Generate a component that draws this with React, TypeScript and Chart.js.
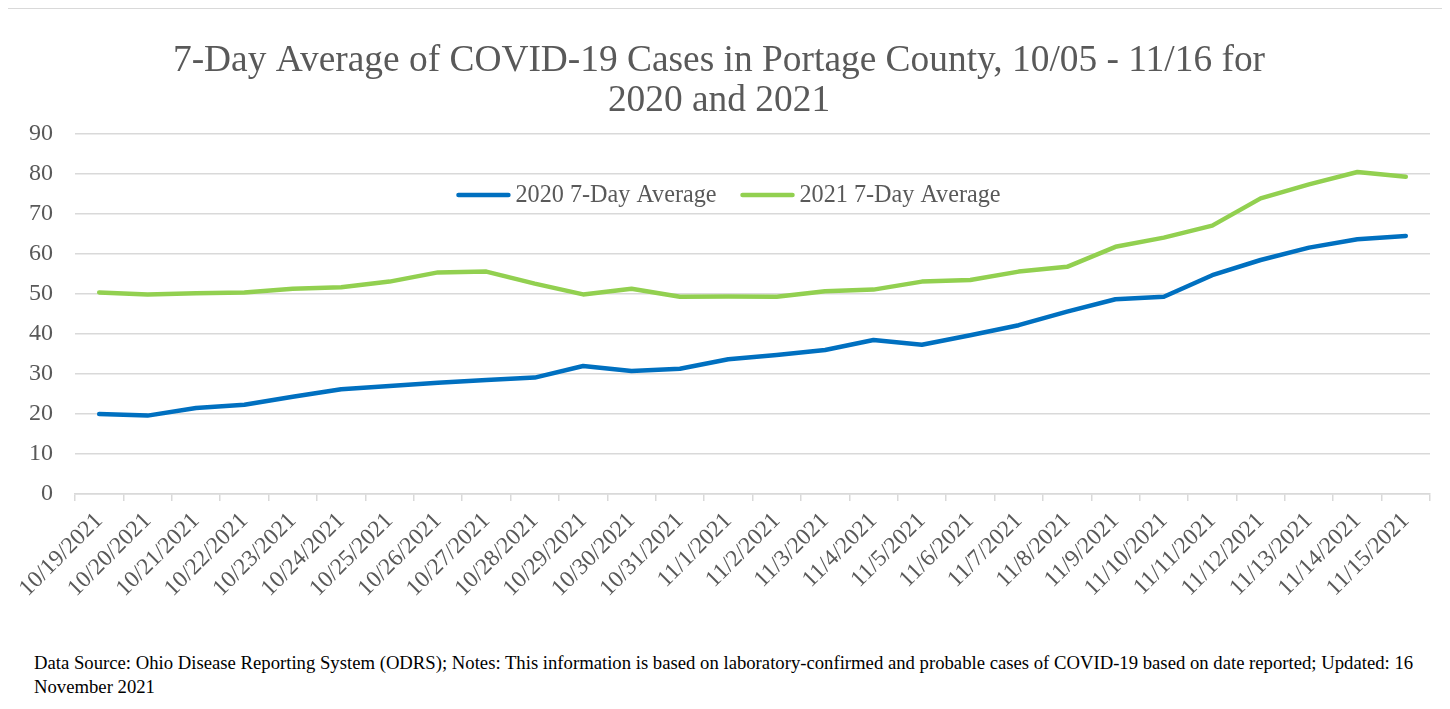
import { useEffect, useRef } from "react";
import { Chart, registerables } from "chart.js";

Chart.register(...registerables);

const categories = [
  "10/19/2021", "10/20/2021", "10/21/2021", "10/22/2021", "10/23/2021", "10/24/2021", "10/25/2021",
  "10/26/2021", "10/27/2021", "10/28/2021", "10/29/2021", "10/30/2021", "10/31/2021", "11/1/2021",
  "11/2/2021", "11/3/2021", "11/4/2021", "11/5/2021", "11/6/2021", "11/7/2021", "11/8/2021",
  "11/9/2021", "11/10/2021", "11/11/2021", "11/12/2021", "11/13/2021", "11/14/2021", "11/15/2021",
];

const avg2020 = [
  20.0, 19.6, 21.5, 22.3, 24.3, 26.2, 27.0, 27.8, 28.5, 29.1, 32.0, 30.75, 31.3, 33.7,
  34.75, 36.0, 38.5, 37.3, 39.7, 42.2, 45.6, 48.7, 49.3, 54.7, 58.5, 61.6, 63.7, 64.5,
];

const avg2021 = [
  50.4, 49.9, 50.2, 50.4, 51.3, 51.7, 53.1, 55.4, 55.6, 52.6, 49.9, 51.3, 49.3, 49.4,
  49.3, 50.7, 51.1, 53.1, 53.5, 55.6, 56.8, 61.8, 64.1, 67.1, 73.9, 77.4, 80.5, 79.3,
];

const seriesLabels = ["2020 7-Day Average", "2021 7-Day Average"];
const titleLines = ["7-Day Average of COVID-19 Cases in Portage County, 10/05 - 11/16 for", "2020 and 2021"];
const yMin = 0;
const yMax = 90;
const yStep = 10;

const FONT = "'Liberation Serif', 'Times New Roman', Times, serif";
const GRAY = "#595959";
const GRID = "#D9D9D9";

const inlineLegend = {
  id: "inlineLegend",
  afterDatasetsDraw(chart: any) {
    const ctx = chart.ctx;
    const area = chart.chartArea;
    const fontSize = 24.2;
    const lineW = 54;
    const gapText = 5;
    const gapItem = 24;
    ctx.save();
    ctx.font = `${fontSize}px ${FONT}`;
    const items = chart.data.datasets.map((ds: any) => ({
      label: ds.label,
      color: ds.borderColor,
      w: ctx.measureText(ds.label).width,
    }));
    let total = 0;
    items.forEach((it: any, i: number) => {
      total += lineW + gapText + it.w + (i < items.length - 1 ? gapItem : 0);
    });
    let x = chart.width / 2 - total / 2 + 2;
    const y = area.top + 61;
    items.forEach((it: any) => {
      ctx.strokeStyle = it.color;
      ctx.lineWidth = 4.5;
      ctx.lineCap = "round";
      ctx.beginPath();
      ctx.moveTo(x + 2, y);
      ctx.lineTo(x + lineW - 2, y);
      ctx.stroke();
      ctx.fillStyle = GRAY;
      ctx.textBaseline = "middle";
      ctx.textAlign = "left";
      ctx.fillText(it.label, x + lineW + gapText, y + 1);
      x += lineW + gapText + it.w + gapItem;
    });
    ctx.restore();
  },
};

export default function App() {
  const ref = useRef<HTMLCanvasElement>(null);

  useEffect(() => {
    if (!ref.current) return;
    const chart = new Chart(ref.current, {
      type: "line",
      data: {
        labels: categories,
        datasets: [
          {
            label: seriesLabels[0],
            data: avg2020,
            borderColor: "#0070C0",
            backgroundColor: "#0070C0",
            borderWidth: 4.5,
            pointRadius: 0,
            tension: 0,
            borderCapStyle: "round",
            borderJoinStyle: "round",
          },
          {
            label: seriesLabels[1],
            data: avg2021,
            borderColor: "#92D050",
            backgroundColor: "#92D050",
            borderWidth: 4.5,
            pointRadius: 0,
            tension: 0,
            borderCapStyle: "round",
            borderJoinStyle: "round",
          },
        ],
      },
      options: {
        responsive: false,
        animation: false,
        layout: { padding: { left: 0, right: 15, top: 0, bottom: 0 } },
        plugins: {
          legend: { display: false },
          tooltip: { enabled: false },
          title: {
            display: true,
            text: titleLines,
            color: GRAY,
            font: { family: FONT, size: 37.4, weight: "normal", lineHeight: 40 / 37.4 },
            padding: { top: 32, bottom: 13 },
          },
        },
        scales: {
          x: {
            type: "category",
            offset: true,
            grid: {
              offset: true,
              drawOnChartArea: false,
              drawTicks: true,
              tickLength: 7,
              color: GRID,
              lineWidth: 1.5,
            },
            border: { display: true, color: GRID, width: 1.5 },
            ticks: {
              color: GRAY,
              font: { family: FONT, size: 23.5 },
              minRotation: 45,
              maxRotation: 45,
              autoSkip: false,
              padding: 6,
            },
            afterFit(scale: any) {
              scale.height = 140;
            },
          },
          y: {
            min: yMin,
            max: yMax,
            grid: { color: GRID, lineWidth: 1.5, drawTicks: false },
            border: { display: false },
            ticks: {
              stepSize: yStep,
              color: GRAY,
              font: { family: FONT, size: 24 },
              padding: 22,
            },
            afterFit(scale: any) {
              scale.width = 67;
            },
          },
        },
      },
      plugins: [inlineLegend],
    });
    return () => chart.destroy();
  }, []);

  return (
    <div
      style={{
        marginLeft: -1,
        width: 1437,
        height: 720,
        border: `1px solid ${GRID}`,
        background: "#fff",
      }}
    >
      <canvas ref={ref} width={1437} height={625} style={{ display: "block", width: 1437, height: 625 }} />
      <div
        style={{
          fontFamily: FONT,
          fontSize: 18.7,
          lineHeight: "24px",
          color: "#000",
          paddingTop: 17,
          paddingLeft: 26,
          whiteSpace: "nowrap",
        }}
      >
        Data Source: Ohio Disease Reporting System (ODRS); Notes: This information is based on laboratory-confirmed and probable cases of COVID-19 based on date reported; Updated: 16
        <br />
        November 2021
      </div>
    </div>
  );
}
